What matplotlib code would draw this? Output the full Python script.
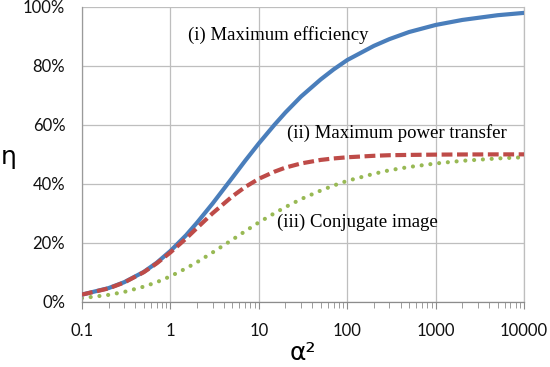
import matplotlib.pyplot as plt
from matplotlib.ticker import FixedLocator, FixedFormatter, LogLocator, NullFormatter

# data (efficiency in %)
alpha_sq = [0.1, 0.2, 0.3, 0.5, 0.7, 1, 1.5, 2, 3, 5, 7, 10, 15, 20, 30, 50, 70,
            100, 200, 300, 500, 1000, 2000, 5000, 10000]
max_efficiency = [2.4, 4.6, 6.6, 10.1, 13.2, 17.2, 22.5, 26.8, 33.3, 42.0, 47.8, 53.7,
                  60.0, 64.2, 69.6, 75.4, 78.8, 82.0, 86.8, 89.1, 91.5, 93.9, 95.6, 97.2, 98.0]
max_power = [2.4, 4.5, 6.5, 10.0, 13.0, 16.7, 21.4, 25.0, 30.0, 35.7, 38.9, 41.7,
             44.1, 45.5, 46.9, 48.1, 48.6, 49.0, 49.5, 49.7, 49.8, 49.9, 49.95, 49.98, 49.99]
conjugate = [1.2, 2.3, 3.3, 5.1, 6.6, 8.6, 11.3, 13.4, 16.7, 21.0, 23.9, 26.9,
             30.0, 32.1, 34.8, 37.7, 39.4, 41.0, 43.4, 44.6, 45.7, 46.9, 47.8, 48.6, 49.0]

x_ticks = [0.1, 1, 10, 100, 1000, 10000]
x_labels = ["0.1", "1", "10", "100", "1000", "10000"]
y_ticks = [0, 20, 40, 60, 80, 100]

fig = plt.figure(figsize=(5.5, 3.67), dpi=100)
ax = fig.add_axes([0.149, 0.178, 0.804, 0.803])

grid_col = "#BEBEBE"

ax.plot(alpha_sq, max_efficiency, color="#4A7EBB", lw=3.0, solid_capstyle="butt", zorder=3)
ax.plot(alpha_sq, max_power, color="#BE4B48", lw=3.0, linestyle=(0, (2.6, 1.1)),
        dash_capstyle="butt", zorder=4)
ax.plot(alpha_sq, conjugate, color="#98B954", lw=3.0, linestyle=(0, (0.01, 2.1)),
        dash_capstyle="round", zorder=2)

ax.set_xscale("log")
ax.set_xlim(0.1, 10000)
ax.set_ylim(0, 100)

ax.xaxis.set_major_locator(FixedLocator(x_ticks))
ax.xaxis.set_major_formatter(FixedFormatter(x_labels))
ax.xaxis.set_minor_locator(LogLocator(base=10, subs=range(2, 10)))
ax.xaxis.set_minor_formatter(NullFormatter())
ax.set_yticks(y_ticks)
ax.set_yticklabels([f"{v}%" for v in y_ticks])

ax.grid(True, which="major", color=grid_col, lw=0.9)
ax.set_axisbelow(True)
ax.spines["top"].set_visible(False)
ax.spines["right"].set_color(grid_col)
ax.spines["right"].set_linewidth(0.9)
ax.spines["left"].set_color("#9A9A9A")
ax.spines["bottom"].set_color("#8C8C8C")
ax.spines["left"].set_linewidth(0.9)
ax.spines["bottom"].set_linewidth(0.9)

ax.tick_params(axis="x", which="major", length=5, color="#8C8C8C", direction="out", pad=10)
ax.tick_params(axis="x", which="minor", length=4, color="#8C8C8C", direction="out")
ax.tick_params(axis="y", length=0, pad=12)
for lab in ax.get_xticklabels() + ax.get_yticklabels():
    lab.set_fontfamily("Lato")
    lab.set_fontsize(12)
    lab.set_color("#111111")

ax.set_xlabel("α²", fontsize=18, fontfamily="DejaVu Sans", labelpad=2)
# y label sits near the figure edge, as in the original
fig.text(0.016, 0.572, "η", fontsize=18, fontfamily="DejaVu Sans", ha="center", va="center")

serif = "Liberation Serif"
ax.text(1.58, 90.5, "(i) Maximum efficiency", fontsize=13.5, fontfamily=serif, va="center")
ax.text(21, 57.1, "(ii) Maximum power transfer", fontsize=13.5, fontfamily=serif, va="center")
ax.text(16, 26.9, "(iii) Conjugate image", fontsize=13.5, fontfamily=serif, va="center")

fig.savefig("out.png", dpi=100)
